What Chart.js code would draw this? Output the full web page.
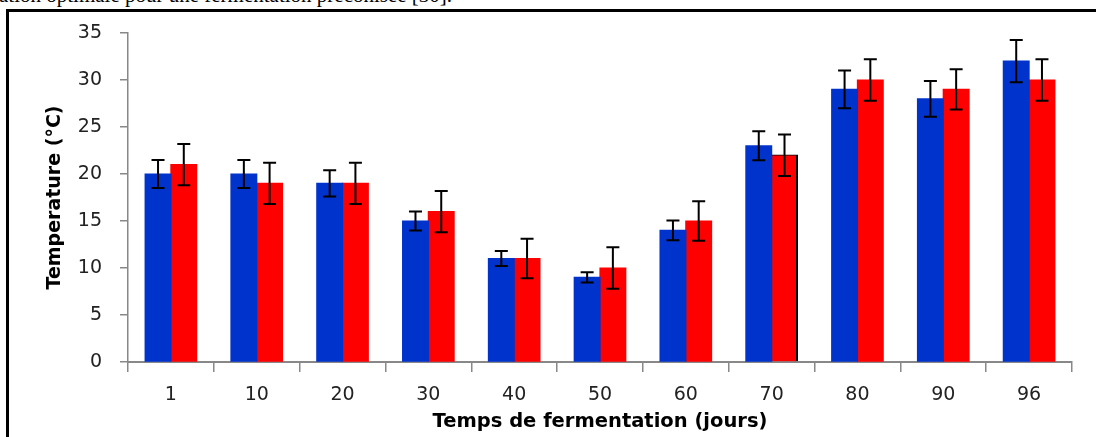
<!DOCTYPE html>
<html>
<head>
<meta charset="utf-8">
<script src="https://cdn.jsdelivr.net/npm/chart.js@4"></script>
<style>
  html, body { margin: 0; padding: 0; background: #fff; }
  #wrap { position: relative; width: 1096px; height: 437px; overflow: hidden; }
  #caption {
    position: absolute; left: -1px; top: -15px;
    font-family: 'Liberation Serif', 'Times New Roman', serif;
    font-size: 21px; line-height: 21px; color: #000; white-space: nowrap;
  }
  #frame {
    position: absolute; left: 6px; top: 9px; width: 1200px; height: 500px;
    border-left: 3px solid #000; border-top: 3px solid #000;
  }
  #chartBox { position: absolute; left: 0; top: 0; width: 1096px; height: 437px; }
</style>
</head>
<body>
<div id="wrap">
  <div id="caption">ation optimale pour une fermentation préconisée [30].</div>
  <div id="frame"></div>
  <div id="chartBox"><canvas id="chart"></canvas></div>
</div>
<script>
// --- Data ---
const days = ['1', '10', '20', '30', '40', '50', '60', '70', '80', '90', '96'];
const blueValues = [20, 20, 19, 15, 11, 9, 14, 23, 29, 28, 32];
const redValues  = [21, 19, 19, 16, 11, 10, 15, 22, 30, 29, 30];
const blueErrors = [1.5, 1.5, 1.4, 1.0, 0.8, 0.55, 1.05, 1.55, 2.0, 1.9, 2.25];
const redErrors  = [2.2, 2.2, 2.2, 2.2, 2.1, 2.2, 2.1, 2.2, 2.2, 2.15, 2.2];
const yTicks = [0, 5, 10, 15, 20, 25, 30, 35];

const colors = {
  blue: 'rgb(0, 51, 204)',
  red: 'rgb(255, 0, 0)',
  axis: '#888888',
  text: '#222222'
};

// error bars drawn on top of each bar, via the y scale
const errorBars = {
  id: 'errorBars',
  afterDatasetsDraw(chart) {
    const { ctx, scales: { y } } = chart;
    ctx.save();
    ctx.strokeStyle = '#000';
    ctx.lineWidth = 2;
    chart.data.datasets.forEach((ds, di) => {
      const meta = chart.getDatasetMeta(di);
      meta.data.forEach((bar, i) => {
        const v = ds.data[i], e = ds.errors[i];
        const top = y.getPixelForValue(v + e);
        const bot = y.getPixelForValue(v - e);
        const half = 6.5;
        ctx.beginPath();
        ctx.moveTo(bar.x, top); ctx.lineTo(bar.x, bot);
        ctx.moveTo(bar.x - half, top); ctx.lineTo(bar.x + half, top);
        ctx.moveTo(bar.x - half, bot); ctx.lineTo(bar.x + half, bot);
        ctx.stroke();
      });
    });
    ctx.restore();
  }
};

new Chart(document.getElementById('chart'), {
  type: 'bar',
  data: {
    labels: days,
    datasets: [{
      label: 'A',
      data: blueValues,
      errors: blueErrors,
      backgroundColor: colors.blue,
      borderWidth: 0,
      inflateAmount: 0.6,
      categoryPercentage: 0.6,
      barPercentage: 1.0
    }, {
      label: 'B',
      data: redValues,
      errors: redErrors,
      backgroundColor: colors.red,
      // the 70-day bar has a thin black outline in the original
      borderColor: '#000',
      borderWidth: (c) => c.dataIndex === 7 ? { left: 1, right: 2, top: 1, bottom: 0 } : 0,
      inflateAmount: 0.6,
      categoryPercentage: 0.6,
      barPercentage: 1.0
    }]
  },
  options: {
    responsive: true,
    maintainAspectRatio: false,
    animation: false,
    layout: { padding: { left: 0, right: 24, top: 33, bottom: 0 } },
    plugins: { legend: { display: false }, tooltip: { enabled: false } },
    scales: {
      x: {
        grid: { display: true, drawOnChartArea: false, offset: true, tickLength: 10, color: colors.axis, lineWidth: 1.5 },
        border: { display: true, color: colors.axis, width: 2 },
        ticks: {
          color: colors.text, padding: 12, maxRotation: 0,
          font: { family: "'DejaVu Sans', sans-serif", size: 19 }
        },
        title: {
          display: true, text: 'Temps de fermentation (jours)', color: '#000',
          font: { family: "'DejaVu Sans', sans-serif", size: 19.5, weight: 'bold' },
          padding: { top: 0, bottom: 3 }
        },
        afterFit: (scale) => { scale.height = 75; }
      },
      y: {
        min: 0, max: 35,
        afterBuildTicks: (scale) => { scale.ticks = yTicks.map(v => ({ value: v })); },
        grid: { display: true, drawOnChartArea: false, tickLength: 8, color: colors.axis, lineWidth: 1.5 },
        border: { display: true, color: colors.axis, width: 1.5 },
        ticks: {
          color: colors.text, padding: 18,
          font: { family: "'DejaVu Sans', sans-serif", size: 19 }
        },
        title: {
          display: true, text: 'Temperature (°C)', color: '#000',
          font: { family: "'DejaVu Sans', sans-serif", size: 19, weight: 'bold' },
          padding: { top: 44, bottom: 0 }
        },
        afterFit: (scale) => { scale.width = 128; }
      }
    }
  },
  plugins: [errorBars]
});
</script>
</body>
</html>
